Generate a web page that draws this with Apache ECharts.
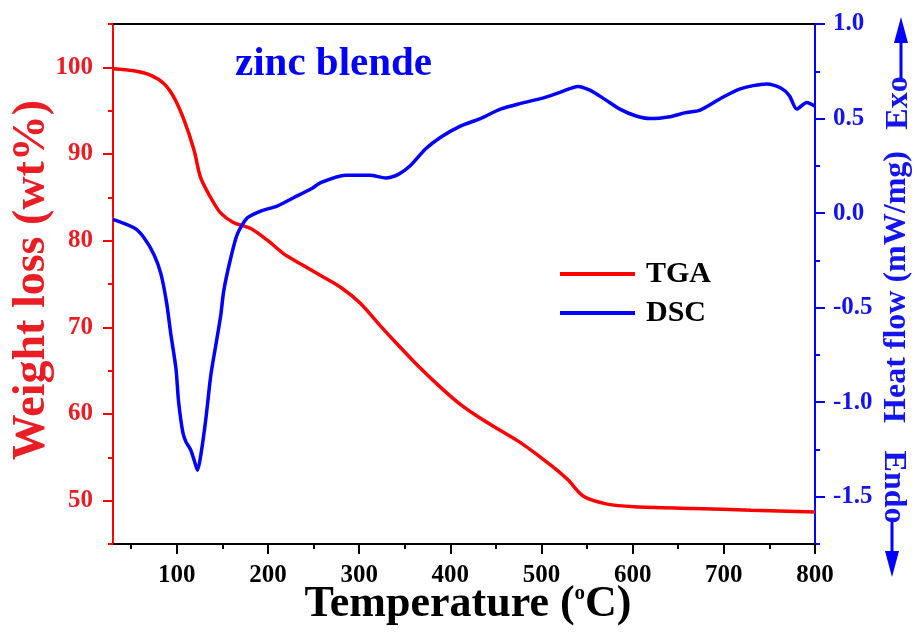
<!DOCTYPE html>
<html>
<head>
<meta charset="utf-8">
<title>TGA / DSC - zinc blende</title>
<script src="https://cdn.jsdelivr.net/npm/echarts@6/dist/echarts.min.js"></script>
<style>
  html, body { margin: 0; padding: 0; background: #fff; }
  #main { width: 917px; height: 637px; }
</style>
</head>
<body>
<div id="main"></div>
<script>
// TGA curve (temperature in C, weight in wt%)
var tgaTemp = [30, 53, 71, 86, 97, 108, 119, 126, 137, 148, 162, 181, 200, 217, 236, 254, 280, 301, 323, 345, 367, 389, 411, 433, 455, 477, 499, 515, 529, 546, 572, 602, 667, 730, 800];
var tgaWeight = [99.85, 99.6, 99.1, 98.1, 96.5, 93.9, 90.4, 87.3, 85.0, 83.2, 82.1, 81.4, 80.0, 78.5, 77.3, 76.2, 74.6, 72.8, 70.2, 67.7, 65.3, 63.1, 61.1, 59.5, 58.1, 56.7, 55.0, 53.7, 52.4, 50.5, 49.6, 49.3, 49.1, 48.9, 48.7];

// DSC curve (temperature in C, heat flow in mW/mg)
var dscTemp = [30, 53, 64, 75, 82.5, 89, 93.4, 99, 102, 106.6, 110, 115, 118.6, 122.7, 126.3, 131.8, 137.2, 142.7, 148.2, 151.5, 159, 166.5, 177.4, 192, 210, 228, 247, 258, 285, 312, 329, 343, 356, 373, 389, 411, 433, 455, 477, 499, 521, 540, 553, 570, 586, 603, 619, 641, 657, 674, 696, 718, 747, 763, 772, 780, 791, 800];
var dscHeat = [-0.033, -0.078, -0.13, -0.22, -0.32, -0.48, -0.64, -0.82, -1.0, -1.16, -1.21, -1.25, -1.30, -1.36, -1.28, -1.09, -0.86, -0.70, -0.54, -0.41, -0.24, -0.11, -0.025, 0.011, 0.037, 0.081, 0.127, 0.161, 0.20, 0.20, 0.186, 0.205, 0.25, 0.34, 0.40, 0.46, 0.50, 0.55, 0.58, 0.605, 0.64, 0.67, 0.65, 0.60, 0.55, 0.515, 0.50, 0.51, 0.53, 0.545, 0.605, 0.657, 0.683, 0.66, 0.62, 0.55, 0.585, 0.565];

// tick values
var xMajor = [100, 200, 300, 400, 500, 600, 700, 800];
var xMinor = [50, 150, 250, 350, 450, 550, 650, 750];
var wMajor = [50, 60, 70, 80, 90, 100];
var wMinor = [45, 55, 65, 75, 85, 95, 105];
var hMajor = [-1.5, -1.0, -0.5, 0.0, 0.5, 1.0];
var hMinor = [-1.75, -1.25, -0.75, -0.25, 0.25, 0.75];

var RED = '#ff0000';
var RED_TXT = '#ea1c24';
var BLUE = '#0000ff';
var BLUE_TXT = '#1414f0';
var FONT = 'Liberation Serif';

function pairs(xs, ys) {
  var out = [];
  for (var i = 0; i < xs.length; i++) out.push([xs[i], ys[i]]);
  return out;
}

var chart = echarts.init(document.getElementById('main'));

var labelFont = { fontFamily: FONT, fontWeight: 'bold', fontSize: 25 };

chart.setOption({
  animation: false,
  backgroundColor: '#fff',
  grid: { left: 113, right: 102, top: 24, bottom: 93, containLabel: false },
  title: {
    text: 'zinc blende',
    left: 230, top: 39,
    textStyle: { fontFamily: FONT, fontWeight: 'bold', fontSize: 41, color: BLUE }
  },
  legend: {
    orient: 'vertical',
    left: 555, top: 254,
    icon: 'rect',
    itemWidth: 75, itemHeight: 4, itemGap: 9,
    data: ['TGA', 'DSC'],
    textStyle: { fontFamily: FONT, fontWeight: 'bold', fontSize: 30, lineHeight: 30, color: '#000', padding: [0, 0, 0, 6] }
  },
  xAxis: [
    {
      type: 'value', min: 30, max: 800, position: 'bottom',
      axisLine: { onZero: false, lineStyle: { color: '#000', width: 2 } },
      axisTick: { customValues: xMajor, length: 10, lineStyle: { color: '#000', width: 2 } },
      axisLabel: Object.assign({ customValues: xMajor, color: '#000', margin: 19 }, labelFont),
      splitLine: { show: false }
    },
    {
      type: 'value', min: 30, max: 800, position: 'bottom',
      axisLine: { show: false, onZero: false },
      axisTick: { customValues: xMinor, length: 5, lineStyle: { color: '#000', width: 2 } },
      axisLabel: { show: false },
      splitLine: { show: false }
    },
    {
      type: 'value', min: 30, max: 800, position: 'top',
      axisLine: { onZero: false, lineStyle: { color: '#000', width: 2 } },
      axisTick: { show: false },
      axisLabel: { show: false },
      splitLine: { show: false }
    }
  ],
  yAxis: [
    {
      type: 'value', min: 45, max: 105, position: 'left',
      axisLine: { show: true, onZero: false, lineStyle: { color: RED, width: 2 } },
      axisTick: { show: true, customValues: wMajor, length: 10, lineStyle: { color: RED, width: 2 } },
      axisLabel: Object.assign({ customValues: wMajor, color: RED_TXT, margin: 20 }, labelFont),
      splitLine: { show: false }
    },
    {
      type: 'value', min: 45, max: 105, position: 'left',
      axisLine: { show: false, onZero: false },
      axisTick: { show: true, customValues: wMinor, length: 5, lineStyle: { color: RED, width: 2 } },
      axisLabel: { show: false },
      splitLine: { show: false }
    },
    {
      type: 'value', min: -1.75, max: 1.0, position: 'right',
      axisLine: { show: true, onZero: false, lineStyle: { color: BLUE, width: 2 } },
      axisTick: { show: true, customValues: hMajor, length: 10, lineStyle: { color: BLUE, width: 2 } },
      axisLabel: Object.assign({
        customValues: hMajor, color: BLUE_TXT, margin: 18,
        formatter: function (v) { return v.toFixed(1); }
      }, labelFont),
      splitLine: { show: false }
    },
    {
      type: 'value', min: -1.75, max: 1.0, position: 'right',
      axisLine: { show: false, onZero: false },
      axisTick: { show: true, customValues: hMinor, length: 5, lineStyle: { color: BLUE, width: 2 } },
      axisLabel: { show: false },
      splitLine: { show: false }
    }
  ],
  series: [
    {
      name: 'TGA', type: 'line', xAxisIndex: 0, yAxisIndex: 0,
      data: pairs(tgaTemp, tgaWeight),
      symbol: 'none', smooth: 0.3,
      color: RED,
      lineStyle: { color: RED, width: 3.5 },
      z: 3
    },
    {
      name: 'DSC', type: 'line', xAxisIndex: 0, yAxisIndex: 2,
      data: pairs(dscTemp, dscHeat),
      symbol: 'none', smooth: 0.25,
      color: BLUE,
      lineStyle: { color: BLUE, width: 3.5 },
      z: 4
    }
  ],
  graphic: [
    // left axis name
    {
      type: 'text', x: 32, y: 280, rotation: Math.PI / 2,
      style: { text: 'Weight loss (wt%)', fill: RED_TXT, font: 'bold 46px "Liberation Serif"', align: 'center', verticalAlign: 'middle' }
    },
    // bottom axis name with superscript degree
    {
      type: 'text', x: 468, y: 605,
      style: {
        text: '{a|Temperature (}{s|o}{a|C)}',
        align: 'center', verticalAlign: 'middle',
        rich: {
          a: { fontFamily: FONT, fontWeight: 'bold', fontSize: 44, color: '#000' },
          s: { fontFamily: FONT, fontWeight: 'bold', fontSize: 21, color: '#000', verticalAlign: 'top', padding: [0, 0, 22, 0] }
        }
      }
    },
    // right axis name
    {
      type: 'text', x: 897, y: 287, rotation: Math.PI / 2,
      style: { text: 'Heat flow (mW/mg)', fill: BLUE_TXT, font: 'bold 32px "Liberation Serif"', align: 'center', verticalAlign: 'middle' }
    },
    {
      type: 'text', x: 899, y: 103, rotation: Math.PI / 2,
      style: { text: 'Exo', fill: BLUE_TXT, font: 'bold 32px "Liberation Serif"', align: 'center', verticalAlign: 'middle' }
    },
    { type: 'line', shape: { x1: 901, y1: 78, x2: 901, y2: 40 }, style: { stroke: BLUE, lineWidth: 3 } },
    { type: 'polygon', shape: { points: [[901, 17], [894, 43], [908, 43]] }, style: { fill: BLUE } },
    {
      type: 'text', x: 893, y: 487, rotation: -Math.PI / 2,
      style: { text: 'Endo', fill: BLUE_TXT, font: 'bold 32px "Liberation Serif"', align: 'center', verticalAlign: 'middle' }
    },
    { type: 'line', shape: { x1: 892, y1: 522, x2: 892, y2: 555 }, style: { stroke: BLUE, lineWidth: 3 } },
    { type: 'polygon', shape: { points: [[892, 577], [885, 551], [899, 551]] }, style: { fill: BLUE } }
  ]
});
</script>
</body>
</html>
